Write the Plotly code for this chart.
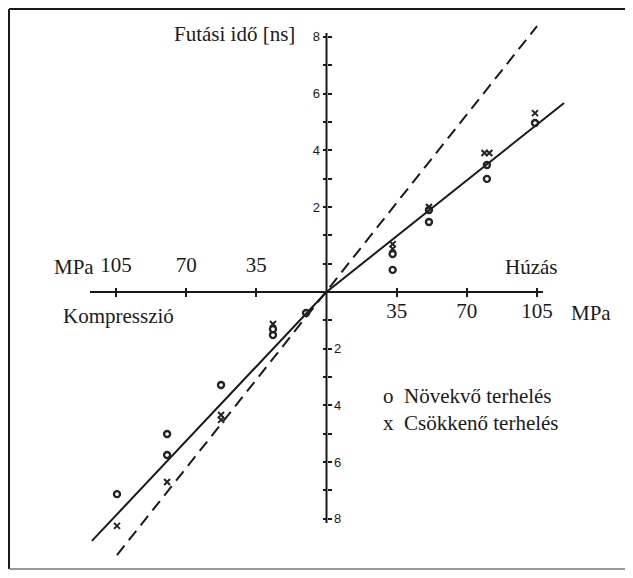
import plotly.graph_objects as go

# ---------------- data ----------------
# x: stress in MPa (negative = compression), y: runtime change in axis tick units
inc_x = [33.0, 33.0, 51.1, 51.1, 80.0, 80.0, 104.0, -10.2, -26.7, -26.7, -52.6, -79.5, -79.5, -104.5]
inc_y = [1.34, 0.78, 2.89, 2.47, 4.48, 3.99, 5.96, -0.74, -1.31, -1.52, -3.28, -5.01, -5.75, -7.13]

dec_x = [33.0, 33.0, 51.1, 78.8, 81.2, 104.0, -26.7, -52.6, -52.6, -79.5, -104.5]
dec_y = [1.69, 1.52, 3.00, 4.90, 4.90, 6.31, -1.13, -4.34, -4.51, -6.70, -8.25]

solid_x = [-117.0, 0.0, 118.5]
solid_y = [-8.78, 0.0, 6.67]
dashed_x = [-104.5, 105.0]
dashed_y = [-9.28, 9.38]

x_tickvals = [-105, -70, -35, 35, 70, 105]
x_text_bottom = ["", "", "", "35", "70", "105"]
x_text_top = ["105", "70", "35", "", "", ""]

y_tickvals = [-8, -7, -6, -5, -4, -3, -2, -1, 1, 2, 3, 4, 5, 6, 7, 8, 9]
y_text_left = ["", "", "", "", "", "", "", "", "", "", "2", "", "4", "", "6", "", "8"]
y_text_right = ["8", "", "6", "", "4", "", "2", "", "", "", "", "", "", "", "", "", ""]

# ---------------- geometry ----------------
OFF = 8                       # page body margin
W, H = 633 - OFF, 578 - 2 * OFF
X0PX, XSC = 326.5 - OFF, 2.005   # figure pixel of x=0, px per MPa
Y0PX, YSC = 292.0 - OFF, 28.35   # figure pixel of y=0, px per unit
XR = [(0 - X0PX) / XSC, (W - X0PX) / XSC]
YR = [(Y0PX - H) / YSC, (Y0PX - 0) / YSC]
xpos0 = (0 - XR[0]) / (XR[1] - XR[0])
ypos0 = (0 - YR[0]) / (YR[1] - YR[0])

SERIF = "Liberation Serif, Times New Roman, serif"
INK = "#1a1a1a"

def px(x):
    """page x pixel -> paper fraction"""
    return (x - OFF) / W

def py(y):
    """page y pixel -> paper fraction"""
    return 1 - (y - OFF) / H

def dx(xp):
    return (xp - OFF - X0PX) / XSC

def dy(yp):
    return (Y0PX - (yp - OFF)) / YSC

fig = go.Figure()

fig.add_trace(go.Scatter(x=solid_x, y=solid_y, mode="lines",
                         line=dict(color=INK, width=2), name="illesztés",
                         hoverinfo="skip"))
fig.add_trace(go.Scatter(x=dashed_x, y=dashed_y, mode="lines",
                         line=dict(color=INK, width=2, dash="12px,7px"),
                         name="elméleti", hoverinfo="skip"))
fig.add_trace(go.Scatter(x=inc_x, y=inc_y, mode="markers", name="Növekvő terhelés",
                         marker=dict(symbol="circle-open", size=6, color="#222",
                                     line=dict(color="#222", width=2.4))))
fig.add_trace(go.Scatter(x=dec_x, y=dec_y, mode="markers", name="Csökkenő terhelés",
                         xaxis="x2", yaxis="y2",
                         marker=dict(symbol="x-thin-open", size=6, color="#222",
                                     line=dict(color="#222", width=2))))

common_x = dict(range=XR, showgrid=False, zeroline=False, showline=False,
                anchor="free", position=ypos0, tickvals=x_tickvals,
                ticks="outside", ticklen=4, tickwidth=1.5, tickcolor=INK,
                tickfont=dict(family=SERIF, size=21, color=INK),
                fixedrange=True)
common_y = dict(range=YR, showgrid=False, zeroline=False, showline=False,
                anchor="free", position=xpos0, tickvals=y_tickvals,
                ticks="outside", ticklen=4, tickwidth=1.5, tickcolor=INK,
                tickfont=dict(family="Liberation Sans, Arial, sans-serif", size=13, color=INK),
                fixedrange=True)

fig.update_layout(
    width=W, height=H,
    margin=dict(l=0, r=0, t=0, b=0),
    paper_bgcolor="white", plot_bgcolor="white",
    showlegend=False,
    xaxis=dict(**common_x, side="bottom", ticktext=x_text_bottom, ticklabelstandoff=-4),
    xaxis2=dict(**common_x, side="top", overlaying="x", ticktext=x_text_top, ticklabelstandoff=8),
    yaxis=dict(**common_y, side="left", ticktext=y_text_left),
    yaxis2=dict(**common_y, side="right", overlaying="y", ticktext=y_text_right),
)

# axis lines
fig.add_shape(type="line", xref="x", yref="y", x0=dx(90), x1=dx(543), y0=0, y1=0,
              line=dict(color=INK, width=2))
fig.add_shape(type="line", xref="x", yref="y", x0=0, x1=0, y0=dy(523), y1=dy(33),
              line=dict(color=INK, width=2))

# frame
BOTTOM = 569
fig.add_shape(type="line", xref="paper", yref="paper", x0=px(9), x1=px(9), y0=py(9), y1=py(BOTTOM),
              line=dict(color=INK, width=2))
fig.add_shape(type="line", xref="paper", yref="paper", x0=px(9), x1=1, y0=py(9), y1=py(9),
              line=dict(color=INK, width=2))
fig.add_shape(type="line", xref="paper", yref="paper", x0=px(628), x1=px(628), y0=py(9), y1=py(BOTTOM),
              line=dict(color="#777", width=1.5))
fig.add_shape(type="line", xref="paper", yref="paper", x0=px(9), x1=px(628), y0=py(BOTTOM), y1=py(BOTTOM),
              line=dict(color="#777", width=1.5))

def label(text, x, y, xanchor="center", size=21):
    fig.add_annotation(text=text, x=px(x), y=py(y), xref="paper", yref="paper",
                       xanchor=xanchor, yanchor="middle", showarrow=False,
                       font=dict(family=SERIF, size=size, color=INK))

label("Futási idő [ns]", 297, 34, xanchor="right")
label("MPa", 52, 267, xanchor="left")
label("MPa", 569, 313, xanchor="left")
label("Húzás", 559, 267, xanchor="right")
label("Kompresszió", 61, 316, xanchor="left")
label("o  Növekvő terhelés", 381, 396, xanchor="left")
label("x  Csökkenő terhelés", 381, 423, xanchor="left")

fig.write_html("out.html")
